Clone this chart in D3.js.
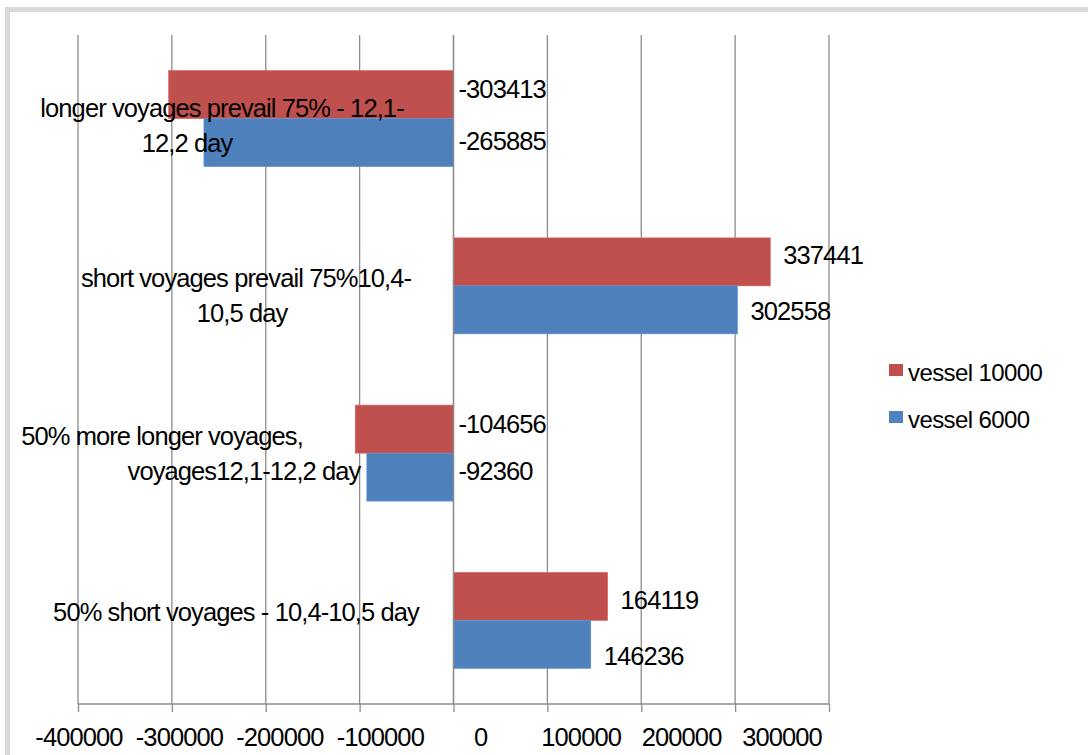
<!DOCTYPE html>
<html>
<head>
<meta charset="utf-8">
<script src="https://cdn.jsdelivr.net/npm/d3@7"></script>
<style>
  html, body { margin: 0; padding: 0; background: #fff; }
  svg { display: block; font-family: "Liberation Sans", Arial, sans-serif; }
  .grid line, .axis line { stroke: #8c8c8c; stroke-width: 1.3; }
</style>
</head>
<body>
<svg id="chart"></svg>
<script>
// chart data
const categoryLines = [
  ['longer voyages prevail 75% - 12,1-', '12,2 day'],
  ['short voyages prevail 75%10,4-', '10,5 day'],
  ['50% more longer voyages,', 'voyages12,1-12,2 day'],
  ['50% short voyages - 10,4-10,5 day']
];
const categories = categoryLines.map(l => l.join(' '));
const seriesNames = ['vessel 10000', 'vessel 6000'];
const vessel10000 = [-303413, 337441, -104656, 164119];
const vessel6000 = [-265885, 302558, -92360, 146236];
const gridValues = [-400000, -300000, -200000, -100000, 0, 100000, 200000, 300000, 400000];
const tickLabels = ['-400000', '-300000', '-200000', '-100000', '0', '100000', '200000', '300000'];

// layout tweaks (Excel places the wrapped category labels a bit unevenly)
const catLabelLayout = [
  { x: [222, 187], dy: -2 },
  { x: [246, 242], dy: 1 },
  { x: [162, 244], dy: -8 },
  { x: [236], dy: 1 }
];
const valueLabelDy = [[-6, -2], [-7, 1], [-5, -6], [4, 12]];

const W = 1088, H = 755;
const plot = { left: 78, right: 829, top: 35, bottom: 704 };
const colors = ['#C0504D', '#4F81BD'];
const FONT = 25.5, SPACING = -0.9;

const svg = d3.select('#chart').attr('width', W).attr('height', H);

// outer frame
svg.append('rect')
  .attr('x', 7.5).attr('y', 9.5)
  .attr('width', W + 20).attr('height', H + 20)
  .attr('fill', '#fff')
  .attr('stroke', '#d9d9d9')
  .attr('stroke-width', 5);

const xScale = d3.scaleLinear()
  .domain([-400000, 400000])
  .range([plot.left, plot.right]);

const yScale = d3.scaleBand()
  .domain(categories)
  .range([plot.top, plot.bottom])
  .paddingInner(0.426)
  .paddingOuter(0.213);

const ySub = d3.scaleBand()
  .domain(seriesNames)
  .range([0, yScale.bandwidth()]);

// gridlines
svg.append('g').attr('class', 'grid')
  .selectAll('line').data(gridValues)
  .join('line')
    .attr('x1', d => xScale(d)).attr('x2', d => xScale(d))
    .attr('y1', plot.top).attr('y2', plot.bottom);

// bars
const rows = categories.map((c, i) => ({
  cat: c,
  i: i,
  values: [vessel10000[i], vessel6000[i]]
}));

const barData = rows.flatMap(r => r.values.map((v, s) => ({ cat: r.cat, i: r.i, s: s, value: v })));

svg.append('g')
  .selectAll('rect').data(barData)
  .join('rect')
    .attr('x', d => xScale(Math.min(0, d.value)))
    .attr('width', d => Math.abs(xScale(d.value) - xScale(0)))
    .attr('y', d => yScale(d.cat) + ySub(seriesNames[d.s]))
    .attr('height', ySub.bandwidth())
    .attr('fill', d => colors[d.s])
    .attr('stroke', d => d3.color(colors[d.s]).brighter(0.4))
    .attr('stroke-width', 0.6);

// zero line on top of bars
svg.append('line')
  .attr('x1', xScale(0)).attr('x2', xScale(0))
  .attr('y1', plot.top).attr('y2', plot.bottom)
  .attr('stroke', '#8c8c8c').attr('stroke-width', 1.3);

// x axis
const xAxis = d3.axisBottom(xScale)
  .tickValues(gridValues)
  .tickSize(8)
  .tickFormat('');

const axisG = svg.append('g')
  .attr('class', 'axis')
  .attr('transform', `translate(0,${plot.bottom})`)
  .call(xAxis);
axisG.select('.domain')
  .attr('stroke', '#8c8c8c').attr('stroke-width', 1.3)
  .attr('d', `M${plot.left},0H${plot.right}`);

// tick labels are spread a bit wider than the gridlines in the original
const labelScale = d3.scalePoint()
  .domain(tickLabels)
  .range([79, 782]);

svg.append('g')
  .selectAll('text').data(tickLabels)
  .join('text')
    .attr('x', d => labelScale(d))
    .attr('y', 746)
    .attr('text-anchor', 'middle')
    .attr('font-size', FONT)
    .attr('letter-spacing', SPACING)
    .attr('fill', '#000')
    .text(d => d);

// value labels
svg.append('g')
  .selectAll('text').data(barData)
  .join('text')
    .attr('x', d => d.value >= 0 ? xScale(d.value) + 13 : xScale(0) + 5)
    .attr('y', d => yScale(d.cat) + ySub(seriesNames[d.s]) + ySub.bandwidth() / 2 + 9 + valueLabelDy[d.i][d.s])
    .attr('font-size', FONT)
    .attr('letter-spacing', SPACING)
    .attr('fill', '#000')
    .text(d => d.value);

// category labels
const catG = svg.append('g')
  .selectAll('text').data(rows)
  .join('text')
    .attr('font-size', FONT)
    .attr('letter-spacing', SPACING)
    .attr('fill', '#000')
    .attr('text-anchor', 'middle');

catG.selectAll('tspan')
  .data(d => categoryLines[d.i].map((line, k) => ({ line, k, i: d.i, cat: d.cat })))
  .join('tspan')
    .attr('x', d => catLabelLayout[d.i].x[d.k])
    .attr('y', d => yScale(d.cat) + yScale.bandwidth() / 2 + catLabelLayout[d.i].dy + d.k * 35)
    .text(d => d.line);

// legend
const legend = svg.append('g')
  .attr('transform', 'translate(889,364)')
  .selectAll('g').data(seriesNames)
  .join('g')
    .attr('transform', (d, i) => `translate(0,${i * 47})`);

legend.append('rect')
  .attr('width', 14).attr('height', 12)
  .attr('fill', (d, i) => colors[i]);

legend.append('text')
  .attr('x', 19)
  .attr('y', 17)
  .attr('font-size', 24)
  .attr('letter-spacing', -0.6)
  .attr('fill', '#000')
  .text(d => d);
</script>
</body>
</html>
